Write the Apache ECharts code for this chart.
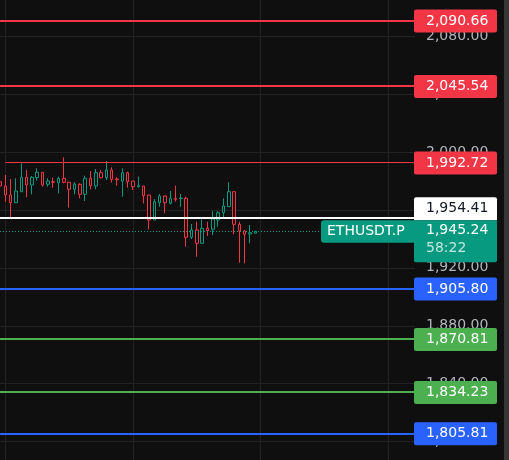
<!DOCTYPE html>
<html>
<head>
<meta charset="utf-8">
<script src="https://cdn.jsdelivr.net/npm/echarts@6/dist/echarts.min.js"></script>
<style>
html,body{margin:0;padding:0;background:#0f0f0f;}
#c{width:509px;height:460px;}
</style>
</head>
<body>
<div id="c"></div>
<script>
// ---- data ----
const symbol = 'ETHUSDT.P';
const countdown = '58:22';
const currentPrice = 1945.24;
const categories = Array.from({length: 79}, (_, i) => String(i + 1)); // 49 candles + empty future slots
const opens = [1979.44,1976.47,1970.26,1964.95,1972.54,1982.48,1977.16,1982.20,1985.93,1977.65,1979.44,1978.75,1981.79,1979.03,1974.20,1977.65,1970.74,1981.79,1976.47,1985.65,1982.20,1987.52,1981.30,1979.92,1985.65,1979.92,1975.99,1976.47,1970.26,1953.01,1964.95,1969.57,1964.53,1967.98,1967.80,1967.98,1941.07,1946.11,1936.93,1947.28,1946.59,1953.01,1958.05,1962.19,1972.54,1950.04,1945.41,1943.34,1943.83];
const closes = [1976.47,1970.26,1964.95,1973.02,1982.48,1977.16,1982.48,1985.93,1977.16,1979.92,1979.03,1981.79,1979.03,1974.20,1977.85,1970.74,1981.79,1976.68,1985.65,1982.20,1987.52,1981.10,1980.82,1985.65,1979.44,1975.99,1976.68,1969.78,1953.01,1965.64,1969.57,1964.95,1967.98,1967.29,1968.10,1941.07,1946.11,1936.93,1947.28,1945.62,1953.70,1958.05,1962.67,1972.54,1950.04,1945.41,1943.14,1944.24,1945.24];
const lows = [1964.53,1965.64,1954.18,1964.90,1972.50,1968.67,1970.74,1980.13,1975.99,1975.99,1975.30,1971.43,1978.34,1961.49,1970.74,1967.98,1966.12,1974.20,1974.20,1981.79,1980.61,1978.75,1976.68,1969.09,1975.30,1973.71,1975.30,1964.53,1946.59,1953.00,1962.19,1957.63,1963.84,1965.64,1962.19,1934.58,1939.89,1927.68,1936.90,1941.96,1942.65,1948.38,1954.18,1962.19,1943.14,1923.54,1923.12,1936.90,1943.83];
const highs = [1996.70,1984.06,1981.30,1981.79,1992.14,1987.52,1983.37,1988.69,1986.14,1981.79,1982.20,1982.89,1996.28,1979.44,1979.03,1978.34,1983.58,1986.83,1988.21,1987.52,1993.73,1989.38,1982.48,1988.69,1986.34,1979.92,1982.89,1976.47,1970.26,1967.50,1970.95,1969.78,1973.02,1976.68,1970.95,1969.09,1950.25,1951.83,1953.49,1951.83,1959.22,1959.22,1967.98,1979.03,1972.54,1951.83,1946.11,1949.56,1945.24];
const levelPrices = [2090.66, 2045.54, 1992.72, 1954.41, 1905.80, 1870.81, 1834.23, 1805.81];
const levelKinds = ['resistance','resistance','resistance','pivot','support','target','target','support'];

// ---- styles ----
const BG = '#0f0f0f', RED = '#f23645', GREEN = '#089981';
const kindColor = {resistance: RED, pivot: '#ffffff', support: '#2962ff', target: '#4caf50'};
const FONT = '"DejaVu Sans", sans-serif';
const fmt = v => v.toLocaleString('en-US', {minimumFractionDigits: 2, maximumFractionDigits: 2});

const chart = echarts.init(document.getElementById('c'), null, {renderer: 'canvas'});

const candleData = opens.map((o, i) => [o, closes[i], lows[i], highs[i]]);

const markData = levelPrices.map((p, i) => {
  const ls = {color: kindColor[levelKinds[i]], width: 2, type: 'solid'};
  if (i === 2) {
    ls.width = 1;
    return [{coord: [categories[1], p], lineStyle: ls}, {coord: [categories[categories.length - 1], p]}];
  }
  return {yAxis: p, lineStyle: ls};
});
markData.push({yAxis: currentPrice, lineStyle: {color: GREEN, width: 1, type: [1, 2]}});

const option = {
  backgroundColor: BG,
  animation: false,
  grid: {left: 0, right: 94, top: -21.96, height: 521.6, containLabel: false, outerBoundsMode: 'none'},
  xAxis: {
    type: 'category', data: categories, boundaryGap: false,
    axisLine: {show: false}, axisTick: {show: false}, axisLabel: {show: false},
    splitLine: {show: true, interval: (idx) => (idx - 1) % 24 === 0, lineStyle: {color: '#232323', width: 1}}
  },
  yAxis: {
    type: 'value', position: 'right', min: 1760, max: 2120, interval: 40, scale: true,
    axisLine: {show: false}, axisTick: {show: false},
    axisLabel: {color: '#b2b5be', fontSize: 14, fontFamily: FONT, margin: 11, align: 'left', formatter: v => fmt(v)},
    splitLine: {show: true, lineStyle: {color: '#232323', width: 1}}
  },
  series: [{
    type: 'candlestick',
    data: candleData,
    barWidth: 3,
    itemStyle: {color: BG, color0: BG, borderColor: GREEN, borderColor0: RED, borderWidth: 1},
    markLine: {silent: true, symbol: ['none', 'none'], label: {show: false}, animation: false, data: markData}
  }]
};
chart.setOption(option);

// ---- price boxes on the scale ----
const Y = p => chart.convertToPixel({yAxisIndex: 0}, p);
const BX = 414, BW = 83, BH = 23;
const gfx = [];
levelPrices.forEach((p, i) => {
  if (levelKinds[i] === 'pivot') return;
  const yc = Y(p) + 0.5;
  gfx.push({type: 'rect', z: 100, shape: {x: BX, y: yc - BH / 2, width: BW, height: BH, r: 2}, style: {fill: kindColor[levelKinds[i]]}});
  gfx.push({type: 'text', z: 101, x: BX + 12, y: yc, style: {text: fmt(p), fill: '#ffffff', font: '14px ' + FONT, verticalAlign: 'middle', align: 'left'}});
});
const yCur = Y(currentPrice);
const greenTop = yCur - 11;
// pivot (white) box pushed up above the current price box
const pivotPrice = levelPrices[levelKinds.indexOf('pivot')];
gfx.push({type: 'rect', z: 100, shape: {x: BX, y: greenTop - BH, width: BW, height: BH, r: [2, 2, 0, 0]}, style: {fill: '#ffffff'}});
gfx.push({type: 'text', z: 101, x: BX + 12, y: greenTop - BH / 2, style: {text: fmt(pivotPrice), fill: '#131722', font: '14px ' + FONT, verticalAlign: 'middle', align: 'left'}});
// current price box
gfx.push({type: 'rect', z: 100, shape: {x: BX, y: greenTop, width: BW, height: 42, r: [0, 0, 2, 2]}, style: {fill: GREEN}});
gfx.push({type: 'text', z: 101, x: BX + 12, y: greenTop + 10, style: {text: fmt(currentPrice), fill: '#ffffff', font: '14px ' + FONT, verticalAlign: 'middle', align: 'left'}});
gfx.push({type: 'text', z: 101, x: BX + 12, y: greenTop + 28, style: {text: countdown, fill: 'rgba(255,255,255,0.75)', font: '14px ' + FONT, verticalAlign: 'middle', align: 'left'}});
// symbol tag
gfx.push({type: 'rect', z: 100, shape: {x: 321, y: greenTop, width: 93, height: 22.5, r: [3, 0, 0, 3]}, style: {fill: GREEN}});
gfx.push({type: 'text', z: 101, x: 327, y: greenTop + 11.5, style: {text: symbol, fill: '#ffffff', font: '14px ' + FONT, verticalAlign: 'middle', align: 'left'}});
// scrollbar strip
gfx.push({type: 'rect', z: 100, shape: {x: 504, y: 0, width: 5, height: 460}, style: {fill: '#363636'}});
chart.setOption({graphic: gfx});
</script>
</body>
</html>
